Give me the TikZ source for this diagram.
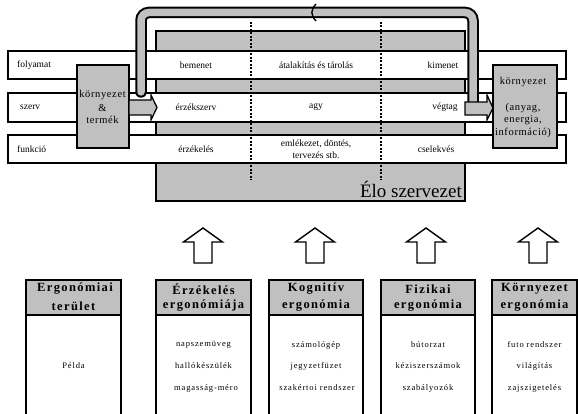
\documentclass[tikz,border=0pt]{standalone}
\usepackage{fontspec}
\setmainfont{Liberation Serif}
\newfontfamily\boxfont[LetterSpace=6]{Liberation Serif}
\newfontfamily\hdrfont[LetterSpace=11,UprightFont={* Bold}]{Liberation Serif}
\newfontfamily\itemfont[LetterSpace=10]{Liberation Serif}
\definecolor{silv}{RGB}{192,192,192}
\begin{document}
\begin{tikzpicture}[x=1pt,y=-1pt,
  rowbox/.style={draw,fill=white,line width=1.3pt,inner sep=0pt,minimum width=558pt},
  graybox/.style={draw,fill=silv,line width=1.3pt,inner sep=0pt},
  lbl/.style={inner sep=0pt,font=\fontsize{9.5}{11}\selectfont},
  btxt/.style={inner sep=0pt,font=\boxfont\fontsize{10.5}{12}\selectfont},
  hdr/.style={inner sep=0pt,font=\hdrfont\fontsize{12.5}{14}\selectfont},
  itm/.style={inner sep=0pt,font=\itemfont\fontsize{8.5}{10}\selectfont},
  divline/.style={line width=1.3pt,dash pattern=on 2pt off 1.5pt},
  thickarrow/.style={draw,fill=silv,line width=1.3pt,line join=miter},
  uparrow/.style={draw,fill=white,line width=1.4pt,line join=miter},
  tabframe/.style={line width=2.5pt},
]
\useasboundingbox (0,0) rectangle (578,414);
\clip (0,0) rectangle (578,414);

% big gray box
\node[graybox,minimum width=309pt,minimum height=170pt] (elo) at (310.5,116) {};
% rows
\node[rowbox,minimum height=28pt] (r1) at (287,65) {};
\node[rowbox,minimum height=29pt] (r2) at (287,107.5) {};
\node[rowbox,minimum height=28pt] (r3) at (287,149) {};
% dashed dividers
\draw[divline] (251,22) -- (251,180);
\draw[divline] (381,22) -- (381,180);
\node[anchor=base east,inner sep=0pt,font=\fontsize{19}{21}\selectfont] (elot) at (462,197) {Élo szervezet};

% side boxes
\node[graybox,minimum width=52pt,minimum height=83pt] (kt) at (103,106.5) {};
\node[graybox,minimum width=64pt,minimum height=83pt] (kr) at (525,106.5) {};

% feedback pipe
\draw[line width=11.5pt,black,rounded corners=8pt,line cap=round] (141,92) -- (141,12.5) -- (473,12.5) -- (473,106);
\draw[line width=7.5pt,silv,rounded corners=8pt,line cap=round] (141,92) -- (141,12.5) -- (473,12.5) -- (473,106);
\draw[line width=1.4pt] (316,4) .. controls (310.5,10) and (310.5,15) .. (316,21);

% thick arrows
\draw[thickarrow] (129,100) -- (151,100) -- (151,95) -- (157,107.5) -- (151,120) -- (151,115) -- (129,115) -- cycle;
\draw[thickarrow] (465,102) -- (487,102) -- (487,95) -- (493,108) -- (487,120) -- (487,115) -- (465,115) -- cycle;

% row texts
\node[lbl,anchor=west] (t1) at (17,65) {folyamat};
\node[lbl,anchor=west] (t2) at (20,107.5) {szerv};
\node[lbl,anchor=west] (t3) at (17,149) {funkció};
\node[lbl] (t4) at (196,65) {bemenet};
\node[lbl] (t5) at (196,107.5) {érzékszerv};
\node[lbl] (t6) at (196,149) {érzékelés};
\node[lbl] (t7) at (316,65) {átalakítás és tárolás};
\node[lbl] (t8) at (316,107.5) {agy};
\node[lbl] (t9) at (316,144) {emlékezet, döntés,};
\node[lbl] (t10) at (316,155) {tervezés stb.};
\node[lbl] (t11) at (443,65) {kimenet};
\node[lbl] (t12) at (445,107.5) {végtag};
\node[lbl] (t13) at (436,149) {cselekvés};
% box texts
\node[btxt] (b1) at (102.5,95) {környezet};
\node[btxt] (b2) at (102.5,108) {\&};
\node[btxt] (b3) at (102.5,120) {termék};
\node[btxt] (b4) at (523,82) {környezet};
\node[btxt] (b5) at (523,108) {(anyag,};
\node[btxt] (b6) at (523,120) {energia,};
\node[btxt] (b7) at (523,133) {információ)};

% up arrows
\foreach \cx in {203,315,426,538}
  \draw[uparrow] (\cx,228) -- ++(19.5,14) -- ++(-10.5,0) -- ++(0,21) -- ++(-18,0) -- ++(0,-21) -- ++(-10.5,0) -- cycle;

% tables
\foreach \xl/\xr in {26/121,156/251,269/363,381/475,492/577}{
  \fill[silv] (\xl,280) rectangle (\xr,315);
  \draw[tabframe] (\xl,430) -- (\xl,280) -- (\xr,280) -- (\xr,430);
  \draw[tabframe] (\xl,315) -- (\xr,315);
}
\node[hdr] (h1a) at (75,289) {Ergonómiai};
\node[hdr] (h1b) at (73.5,306) {terület};
\node[hdr] (h2a) at (203.5,289) {Érzékelés};
\node[hdr] (h2b) at (203.5,306) {ergonómiája};
\node[hdr] (h3a) at (316,289) {Kognitív};
\node[hdr] (h3b) at (316,306) {ergonómia};
\node[hdr] (h4a) at (428,289) {Fizikai};
\node[hdr] (h4b) at (428,306) {ergonómia};
\node[hdr] (h5a) at (534.5,289) {Környezet};
\node[hdr] (h5b) at (534.5,306) {ergonómia};

\node[itm] (i1) at (73.5,366) {Példa};
\node[itm] (i2a) at (203.5,345) {napszemüveg};
\node[itm] (i2b) at (203.5,366) {hallókészülék};
\node[itm] (i2c) at (206,388) {magasság-méro};
\node[itm] (i3a) at (316,345) {számológép};
\node[itm] (i3b) at (316,366) {jegyzetfüzet};
\node[itm] (i3c) at (317,388) {szakértoi rendszer};
\node[itm] (i4a) at (428,345) {bútorzat};
\node[itm] (i4b) at (428,366) {kéziszerszámok};
\node[itm] (i4c) at (428,388) {szabályozók};
\node[itm] (i5a) at (534.5,345) {futo rendszer};
\node[itm] (i5b) at (534.5,366) {világítás};
\node[itm] (i5c) at (534.5,388) {zajszigetelés};
\end{tikzpicture}
\end{document}
